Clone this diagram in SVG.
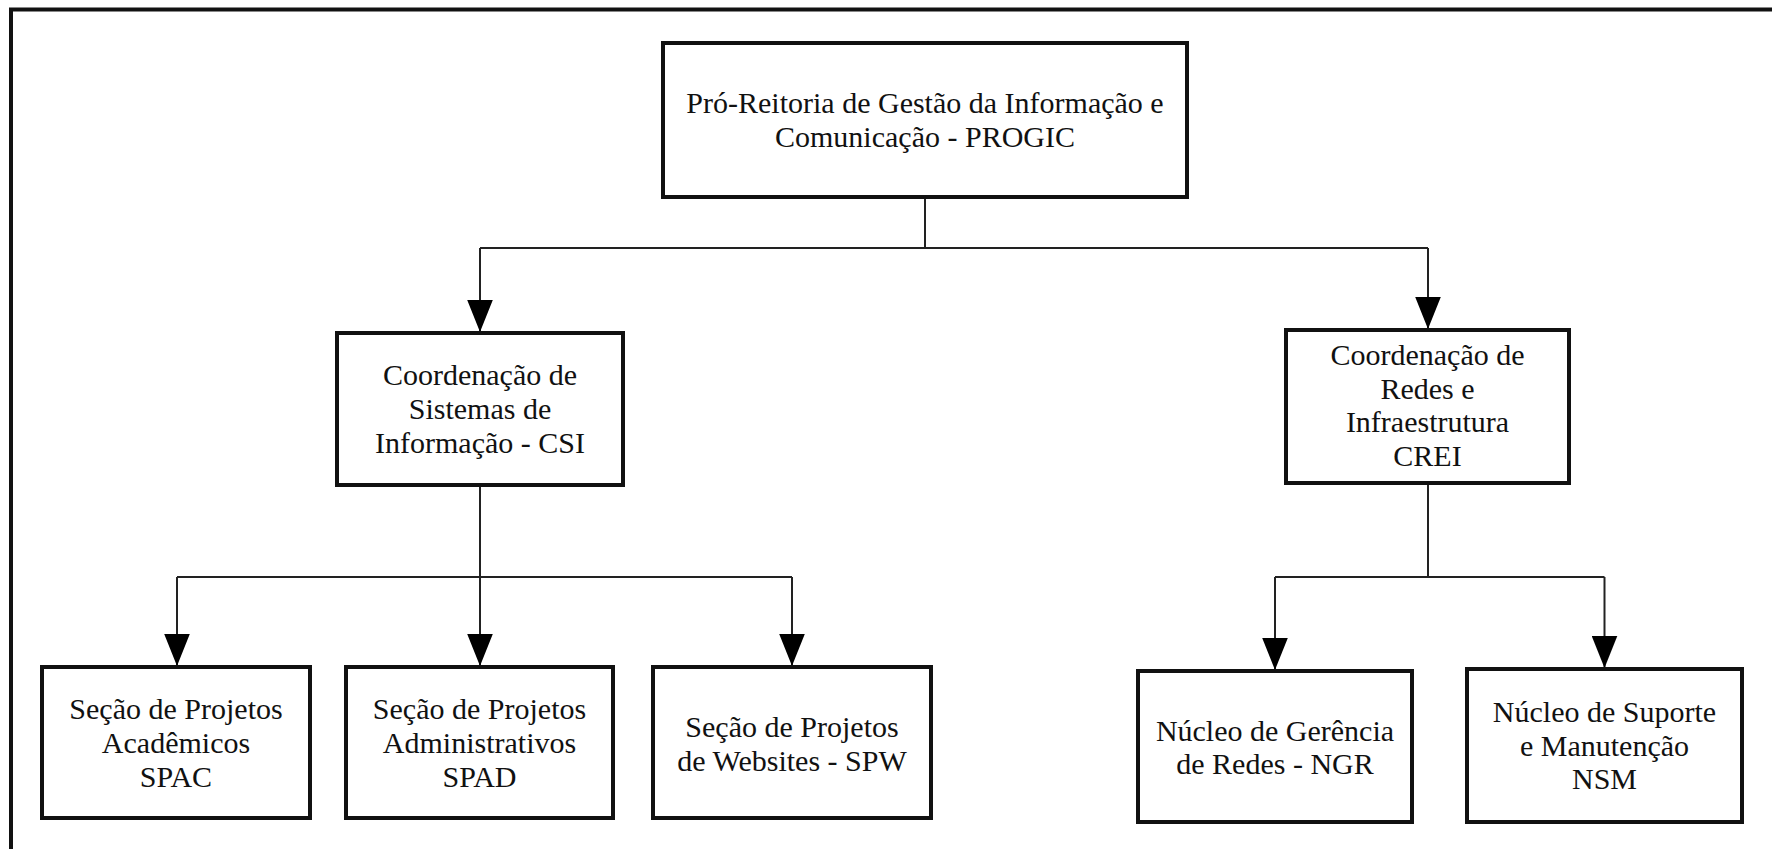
<svg xmlns="http://www.w3.org/2000/svg" width="1772" height="849" viewBox="0 0 1772 849">
<style>
.box{fill:#fff;stroke:#111;stroke-width:4}
.frame{fill:none;stroke:#111;stroke-width:4}
.conn{fill:none;stroke:#222;stroke-width:2}
text{font-family:"Liberation Serif","DejaVu Serif","Times New Roman",serif;font-size:30px;fill:#111;text-anchor:middle}
</style>
<defs>
<marker id="arr" markerUnits="userSpaceOnUse" markerWidth="32" markerHeight="26" refX="30" refY="12" orient="auto" viewBox="0 0 30 24">
<path d="M0,0 L30,12 L0,24 Z" fill="#000"/>
</marker>
</defs>
<rect class="frame" x="11" y="9.5" width="1800" height="900"/>
<g id="connectors">
<path class="conn" d="M925,197 V248"/>
<path class="conn" d="M480,248 H1428"/>
<path class="conn" d="M480,248 V332" marker-end="url(#arr)"/>
<path class="conn" d="M1428,248 V329" marker-end="url(#arr)"/>
<path class="conn" d="M480,485 V577"/>
<path class="conn" d="M177,577 H792"/>
<path class="conn" d="M177,577 V666" marker-end="url(#arr)"/>
<path class="conn" d="M480,577 V666" marker-end="url(#arr)"/>
<path class="conn" d="M792,577 V666" marker-end="url(#arr)"/>
<path class="conn" d="M1428,483 V577"/>
<path class="conn" d="M1275,577 H1604.5"/>
<path class="conn" d="M1275,577 V670" marker-end="url(#arr)"/>
<path class="conn" d="M1604.5,577 V668" marker-end="url(#arr)"/>
</g>
<g id="progic">
<rect class="box" x="663" y="43" width="524" height="154"/>
<text x="925" y="113">Pró-Reitoria de Gestão da Informação e</text>
<text x="925" y="147">Comunicação - PROGIC</text>
</g>
<g id="csi">
<rect class="box" x="337" y="333" width="286" height="152"/>
<text x="480" y="385">Coordenação de</text>
<text x="480" y="419">Sistemas de</text>
<text x="480" y="453">Informação - CSI</text>
</g>
<g id="crei">
<rect class="box" x="1286" y="330" width="283" height="153"/>
<text x="1427.5" y="365">Coordenação de</text>
<text x="1427.5" y="398.5">Redes e</text>
<text x="1427.5" y="432">Infraestrutura</text>
<text x="1427.5" y="465.5">CREI</text>
</g>
<g id="spac">
<rect class="box" x="42" y="667" width="268" height="151"/>
<text x="176" y="719">Seção de Projetos</text>
<text x="176" y="753">Acadêmicos</text>
<text x="176" y="787">SPAC</text>
</g>
<g id="spad">
<rect class="box" x="346" y="667" width="267" height="151"/>
<text x="479.5" y="719">Seção de Projetos</text>
<text x="479.5" y="753">Administrativos</text>
<text x="479.5" y="787">SPAD</text>
</g>
<g id="spw">
<rect class="box" x="653" y="667" width="278" height="151"/>
<text x="792" y="737">Seção de Projetos</text>
<text x="792" y="771">de Websites - SPW</text>
</g>
<g id="ngr">
<rect class="box" x="1138" y="671" width="274" height="151"/>
<text x="1275" y="741">Núcleo de Gerência</text>
<text x="1275" y="774">de Redes - NGR</text>
</g>
<g id="nsm">
<rect class="box" x="1467" y="669" width="275" height="153"/>
<text x="1604.5" y="722">Núcleo de Suporte</text>
<text x="1604.5" y="756">e Manutenção</text>
<text x="1604.5" y="789">NSM</text>
</g>
</svg>
